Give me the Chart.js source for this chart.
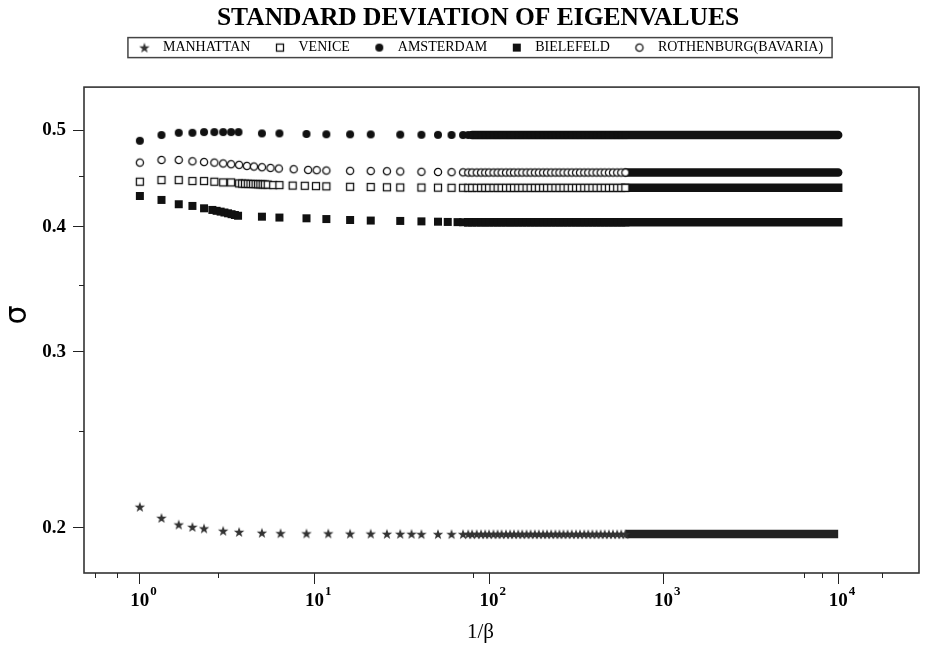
<!DOCTYPE html>
<html>
<head>
<meta charset="utf-8">
<script src="https://cdn.jsdelivr.net/npm/chart.js@4.4.0/dist/chart.umd.min.js"></script>
<style>
  html, body { margin: 0; padding: 0; background: #fff; }
</style>
</head>
<body>
<canvas id="chart" width="925" height="655"></canvas>
<script>
// axis ticks
const xMajor = [1, 10, 100, 1000, 10000];
const xExponents = ['0', '1', '2', '3', '4'];
const xMinor = [0.55, 0.74, 2.8, 81, 6400, 8100, 17800];
const yMajor = [0.2, 0.3, 0.4, 0.5];
const yTickLabels = ['0.2', '0.3', '0.4', '0.5'];
const yMinor = [0.25, 0.35, 0.45];

// series labels
const seriesNames = ['MANHATTAN', 'VENICE', 'AMSTERDAM', 'BIELEFELD', 'ROTHENBURG(BAVARIA)'];

// sparse points (1/beta, sigma)
const manhattanX = [1, 1.33, 1.67, 2, 2.33, 3, 3.7, 5, 6.4, 9, 12, 16, 21, 26, 31, 36, 41, 51, 61, 71];
const manhattanY = [0.2100, 0.2047, 0.2016, 0.2005, 0.1998, 0.1987, 0.1982, 0.1978, 0.1976, 0.1975,
                    0.1975, 0.1974, 0.1974, 0.1973, 0.1973, 0.1973, 0.1972, 0.1972, 0.1972, 0.1972];

const veniceX = [1, 1.33, 1.67, 2, 2.33, 2.67, 3, 3.33, 3.7, 3.85, 4.0, 4.15, 4.3, 4.45, 4.6, 4.75, 4.9,
                 5.05, 5.2, 5.4, 5.8, 6.3, 7.5, 8.8, 10.2, 11.7, 16, 21, 26, 31, 41, 51, 61, 71];
const veniceY = [0.4439, 0.4456, 0.4456, 0.4446, 0.4446, 0.4439, 0.4432, 0.4432, 0.4422, 0.4420, 0.4419,
                 0.4418, 0.4417, 0.4416, 0.4415, 0.4414, 0.4413, 0.4412, 0.4411, 0.4410, 0.4405, 0.4405,
                 0.4400, 0.4398, 0.4395, 0.4392, 0.4388, 0.4385, 0.4383, 0.4381, 0.4380, 0.4379, 0.4378, 0.4378];

const amsterdamX = [1, 1.33, 1.67, 2, 2.33, 2.67, 3, 3.33, 3.67, 5, 6.3, 9, 11.7, 16, 21, 31, 41, 51, 61, 71];
const amsterdamY = [0.4878, 0.4943, 0.4969, 0.4969, 0.4977, 0.4977, 0.4977, 0.4977, 0.4977, 0.4962,
                    0.4962, 0.4955, 0.4952, 0.4951, 0.4950, 0.4948, 0.4946, 0.4945, 0.4944, 0.4943];

const bielefeldX = [1, 1.33, 1.67, 2, 2.33, 2.6, 2.75, 2.9, 3.05, 3.2, 3.35, 3.5, 3.65, 5, 6.3, 9, 11.7,
                    16, 21, 31, 41, 51, 58, 66, 71];
const bielefeldY = [0.4296, 0.4257, 0.4215, 0.4199, 0.4176, 0.4160, 0.4152, 0.4144, 0.4136, 0.4128, 0.4120,
                    0.4112, 0.4105, 0.4096, 0.4088, 0.4081, 0.4074, 0.4065, 0.4060, 0.4056, 0.4052, 0.4049,
                    0.4047, 0.4045, 0.4044];

const rothenburgX = [1, 1.33, 1.67, 2, 2.33, 2.67, 3, 3.33, 3.7, 4.1, 4.5, 5.0, 5.6, 6.25, 7.6, 9.2, 10.3,
                     11.7, 16, 21, 26, 31, 41, 51, 61, 71];
const rothenburgY = [0.4639, 0.4667, 0.4667, 0.4653, 0.4645, 0.4639, 0.4630, 0.4622, 0.4615, 0.4604, 0.4597,
                     0.4590, 0.4583, 0.4576, 0.4569, 0.4562, 0.4559, 0.4555, 0.4552, 0.4550, 0.4548, 0.4545,
                     0.4542, 0.4540, 0.4538, 0.4536];

// dense tail: every series sits flat from here on
const tailX = [76, 80, 85, 90, 95, 100, 106, 112, 118, 125, 132, 139, 147, 155, 164, 173, 183, 193, 204,
               215, 227, 240, 253, 267, 282, 298, 315, 332, 351, 370, 391, 413, 436, 460, 486, 513, 542, 572, 604];
const tailLevels = [0.1972, 0.4377, 0.4943, 0.4043, 0.4534];
// where each series turns into a solid band
const bandFrom = [604, 604, 80, 76, 604];
const bandTo = 10000;

// marker images
function makeMarker(kind) {
    const c = document.createElement('canvas');
    c.width = 12;
    c.height = 12;
    const g = c.getContext('2d');
    g.fillStyle = '#111';
    g.strokeStyle = '#111';
    g.lineWidth = 1.3;
    if (kind === 'star') {
        g.fillStyle = '#333';
        g.beginPath();
        for (let i = 0; i < 10; i++) {
            const r = i % 2 ? 2.2 : 5.5;
            const a = -Math.PI / 2 + i * Math.PI / 5;
            g.lineTo(6 + r * Math.cos(a), 6.5 + r * Math.sin(a));
        }
        g.closePath();
        g.fill();
    } else if (kind === 'dot') {
        g.beginPath();
        g.arc(6, 6, 4, 0, 2 * Math.PI);
        g.fill();
    } else if (kind === 'ring') {
        g.fillStyle = '#fff';
        g.beginPath();
        g.arc(6, 6, 3.6, 0, 2 * Math.PI);
        g.fill();
        g.stroke();
    } else if (kind === 'block') {
        g.fillRect(2, 2, 8, 8);
    } else if (kind === 'box') {
        g.fillStyle = '#fff';
        g.fillRect(2.5, 2.5, 7, 7);
        g.strokeRect(2.5, 2.5, 7, 7);
    }
    return c;
}

const markers = [makeMarker('star'), makeMarker('box'), makeMarker('dot'), makeMarker('block'), makeMarker('ring')];
const capStyles = ['butt', 'square', 'round', 'square', 'round'];
const seriesX = [manhattanX, veniceX, amsterdamX, bielefeldX, rothenburgX];
const seriesY = [manhattanY, veniceY, amsterdamY, bielefeldY, rothenburgY];

function toPoints(xs, ys) {
    return xs.map((x, i) => ({ x: x, y: ys[i] }));
}

const datasets = [];
seriesNames.forEach((name, k) => {
    datasets.push({
        label: name,
        xAxisID: 'x',
        yAxisID: 'y',
        data: toPoints(seriesX[k], seriesY[k]).concat(tailX.map(x => ({ x: x, y: tailLevels[k] }))),
        pointStyle: markers[k],
        pointRadius: 5,
        showLine: false
    });
});
seriesNames.forEach((name, k) => {
    datasets.push({
        label: '',
        xAxisID: 'x',
        yAxisID: 'y',
        data: [{ x: bandFrom[k], y: tailLevels[k] }, { x: bandTo, y: tailLevels[k] }],
        showLine: true,
        borderColor: k === 0 ? '#222' : '#111',
        borderWidth: 8.5,
        borderCapStyle: capStyles[k],
        pointRadius: 0
    });
});

const serif = 'Liberation Serif';

// frame, minor ticks, exponents and legend box
const framePlugin = {
    id: 'frame',
    beforeDatasetsDraw(chart) {
        const { ctx, chartArea: a } = chart;
        const x = chart.scales.x;
        const y = chart.scales.y;
        ctx.save();
        ctx.strokeStyle = '#333';
        ctx.lineWidth = 1.6;
        ctx.strokeRect(a.left, a.top, a.right - a.left, a.bottom - a.top);
        ctx.lineWidth = 1;
        ctx.strokeStyle = '#222';
        ctx.beginPath();
        xMinor.forEach(v => {
            const px = Math.round(x.getPixelForValue(v)) + 0.5;
            ctx.moveTo(px, a.bottom);
            ctx.lineTo(px, a.bottom + 5);
        });
        yMinor.forEach(v => {
            const py = Math.round(y.getPixelForValue(v)) + 0.5;
            ctx.moveTo(a.left - 5, py);
            ctx.lineTo(a.left, py);
        });
        ctx.stroke();

        // superscript exponents next to the "10" tick labels
        ctx.font = 'bold 19px "' + serif + '"';
        const baseW = ctx.measureText('10').width;
        ctx.font = 'bold 13px "' + serif + '"';
        ctx.fillStyle = '#000';
        ctx.textAlign = 'left';
        ctx.textBaseline = 'top';
        xMajor.forEach((v, i) => {
            const px = x.getPixelForValue(v);
            ctx.fillText(xExponents[i], px + baseW / 2 + 1, a.bottom + 12);
        });
        ctx.restore();
    },
    afterDraw(chart) {
        const boxes = chart.legend.legendHitBoxes;
        if (!boxes || !boxes.length) return;
        const ctx = chart.ctx;
        const first = boxes[0];
        const last = boxes[boxes.length - 1];
        ctx.save();
        ctx.strokeStyle = '#444';
        ctx.lineWidth = 1.5;
        ctx.strokeRect(first.left - 5, first.top - 3, last.left + last.width - first.left + 14, first.height + 6);
        ctx.restore();
    }
};

new Chart(document.getElementById('chart'), {
    type: 'scatter',
    data: { datasets: datasets },
    plugins: [framePlugin],
    options: {
        responsive: false,
        animation: false,
        events: [],
        layout: { padding: { left: 35, right: 4, top: 0, bottom: 0 } },
        plugins: {
            title: {
                display: true,
                text: 'STANDARD DEVIATION OF EIGENVALUES',
                color: '#000',
                font: { family: serif, size: 25.5, weight: 'bold' },
                padding: { top: 3, bottom: -11 }
            },
            legend: {
                display: true,
                labels: {
                    usePointStyle: true,
                    pointStyleWidth: 23,
                    color: '#000',
                    padding: 18,
                    font: { family: serif, size: 14 },
                    filter: item => item.datasetIndex < 5
                }
            },
            tooltip: { enabled: false }
        },
        scales: {
            x: {
                type: 'logarithmic',
                min: 0.4786,
                max: 29040,
                afterBuildTicks: s => { s.ticks = xMajor.map(v => ({ value: v })); },
                afterFit: s => { s.height = 82; },
                ticks: {
                    callback: () => '10',
                    color: '#000',
                    font: { family: serif, size: 19, weight: 'bold' },
                    padding: 6,
                    maxRotation: 0,
                    autoSkip: false
                },
                grid: { display: true, drawOnChartArea: false, drawTicks: true, tickLength: 11, color: '#222', tickColor: '#222' },
                border: { display: false },
                title: {
                    display: true,
                    text: '1/β\u2003\u2003',
                    color: '#000',
                    font: { family: serif, size: 21 },
                    padding: { top: 0, bottom: 10.4 }
                }
            },
            y: {
                type: 'logarithmic',
                min: 0.1803,
                max: 0.552,
                afterBuildTicks: s => { s.ticks = yMajor.map(v => ({ value: v })); },
                afterFit: s => { s.width = 49; },
                ticks: {
                    callback: v => yTickLabels[yMajor.indexOf(v)],
                    color: '#000',
                    font: { family: serif, size: 19, weight: 'bold' },
                    padding: 7
                },
                grid: { display: true, drawOnChartArea: false, drawTicks: true, tickLength: 11, color: '#222', tickColor: '#222' },
                border: { display: false },
                title: {
                    display: true,
                    text: '\u2003σ',
                    color: '#000',
                    font: { family: 'DejaVu Sans', size: 30 },
                    padding: { top: -35, bottom: 0 }
                }
            },
            gap: {
                type: 'linear',
                position: 'top',
                display: true,
                afterFit: s => { s.height = 22.5; },
                ticks: { display: false },
                grid: { display: false },
                border: { display: false }
            }
        }
    }
});
</script>
</body>
</html>
